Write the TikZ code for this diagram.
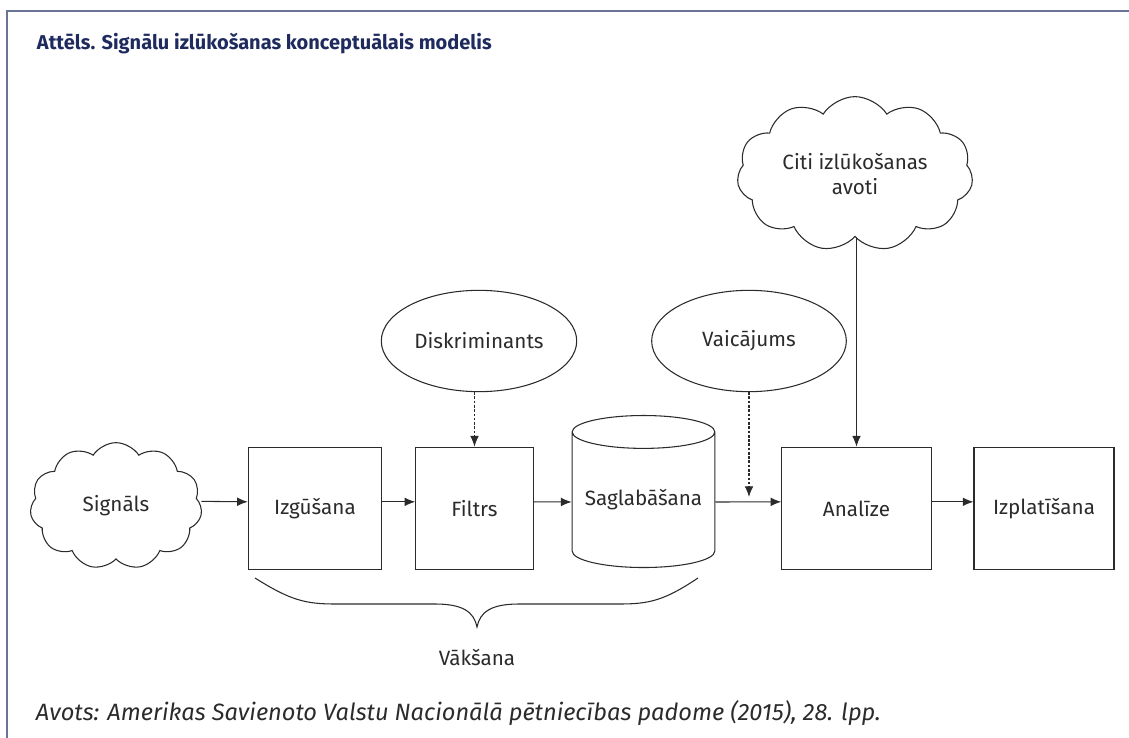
\documentclass[tikz,border=0pt]{standalone}
\usepackage{fontspec}
\setmainfont{Fira Sans}
\usetikzlibrary{shapes.geometric,shapes.symbols,arrows.meta}
\definecolor{framecol}{HTML}{6A7497}
\definecolor{titlecol}{HTML}{1F2B5E}
\definecolor{linecol}{HTML}{2B2B2B}

\begin{document}
\begin{tikzpicture}[x=0.75pt, y=-0.75pt, draw=linecol, thick, every node/.style={text=linecol, font=\fontsize{15.5}{18.5}\selectfont}]
    \tikzstyle{block}=[rectangle, minimum height=92pt, draw=linecol, thick, inner sep=0pt]
    \tikzstyle{blob}=[cloud, cloud puffs=11, cloud puff arc=115, draw=linecol, thick, inner sep=0pt]
    \tikzstyle{oval}=[ellipse, minimum width=146pt, minimum height=76pt, draw=linecol, thick]
    \tikzstyle{arr}=[-{Latex[length=8pt,width=6.5pt]}]
    \tikzstyle{dotarr}=[-{Latex[length=8pt,width=6.5pt]}, dash pattern=on 2pt off 1.2pt]

    \useasboundingbox (0,0) rectangle (1129,738);

    % Frame and title
    \draw[framecol, line width=1.6pt] (7,738) -- (7,11) -- (1129,11);
    \node[anchor=base west, text=titlecol, font=\fontsize{15}{18}\bfseries] (title) at (32,50) {Attēls. Signālu izlūkošanas konceptuālais modelis};

    % Sources
    \node[blob, aspect=1.35, minimum width=129pt, minimum height=95pt] (signals) at (116,506) {Signāls};
    \node[blob, aspect=1.6, minimum width=177pt, minimum height=112pt, align=center] (citi) at (855,174) {Citi izlūkošanas\\avoti};

    % Process chain
    \node[block, minimum width=100pt] (izgusana) at (315,508.5) {Izgūšana};
    \node[block, minimum width=88pt] (filtrs) at (474.5,508.5) {Filtrs};
    \node[cylinder, shape border rotate=90, aspect=0.28, minimum height=114pt, minimum width=107pt, draw=linecol, thick, inner sep=0pt] (saglabasana) at (643.5,500) {Saglabāšana};
    \node[block, minimum width=112pt] (analize) at (856.5,508.5) {Analīze};
    \node[block, minimum width=105pt] (izplatisana) at (1044,508.5) {Izplatīšana};

    % Control inputs
    \node[oval] (diskr) at (479,341) {Diskriminants};
    \node[oval] (vaic) at (749,341) {Vaicājums};
    \coordinate (vaicend) at (749,497);

    % Main flow
    \draw[arr] ([yshift=3.5pt]signals.east) -- ([yshift=5pt]izgusana.west);
    \draw[arr] ([yshift=5pt]izgusana.east) -- ([yshift=5pt]filtrs.west);
    \draw[arr] ([yshift=5pt]filtrs.east) -- (saglabasana.west |- 0,502);
    \draw[arr] (saglabasana.east |- 0,502) -- ([yshift=5pt]analize.west);
    \draw[arr] ([yshift=5pt]analize.east) -- ([yshift=5pt]izplatisana.west);

    % Side inputs
    \draw[dotarr] (diskr.south -| filtrs.north) -- (filtrs.north);
    \draw[dotarr] (vaic.south) -- (vaicend);
    \draw[arr] (citi.south -| analize.north) -- (analize.north);

    % Brace
    \draw (255,578) .. controls (290,600) and (305,604) .. (335,604) -- (435,604) .. controls (463,604) and (474,612) .. (477,627) .. controls (480,612) and (491,604) .. (519,604) -- (620,604) .. controls (650,604) and (665,600) .. (698,578);
    \node (vaksana) at (477,658) {Vākšana};

    % Source note
    \node[anchor=base west, font=\fontsize{17.7}{21}\itshape] (avots) at (31,720) {Avots: Amerikas Savienoto Valstu Nacionālā pētniecības padome (2015), 28. lpp.};

\end{tikzpicture}
\end{document}
